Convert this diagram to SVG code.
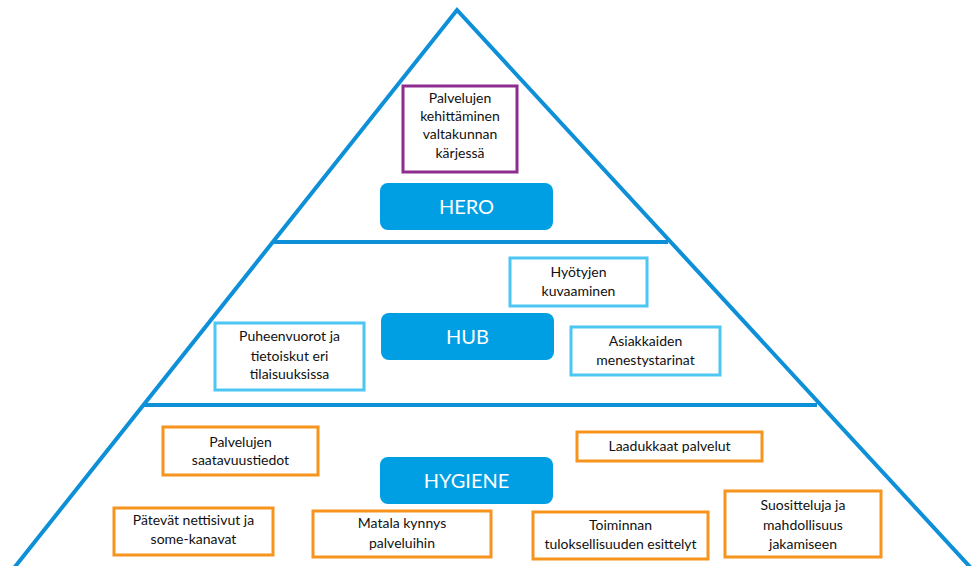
<svg xmlns="http://www.w3.org/2000/svg" width="977" height="566" viewBox="0 0 977 566">
<style>
.ln{stroke:#0E90D8;stroke-width:4;fill:none}
.lvl{fill:#009FE3}
.lvt{font-family:Lato,"Liberation Sans",sans-serif;font-size:20px;fill:#fff;text-anchor:middle}
.t{font-family:Lato,"Liberation Sans",sans-serif;font-size:14px;fill:#111;text-anchor:middle}
.pu{fill:#fff;stroke:#8E2D8F;stroke-width:3}
.lb{fill:#fff;stroke:#4CC6F2;stroke-width:3}
.or{fill:#fff;stroke:#F7941D;stroke-width:3}
</style>
<rect width="977" height="566" fill="#fff"/>
<g id="connectors">
<polyline class="ln" points="14,568 457,10 971,568"/>
<line class="ln" x1="272" y1="242" x2="668" y2="242"/>
<line class="ln" x1="144" y1="405" x2="817" y2="405"/>
</g>
<g id="hero">
<rect class="lvl" x="380" y="183" width="173" height="47" rx="8"/>
<text class="lvt" x="466.5" y="214">HERO</text>
</g>
<g id="hero-item">
<rect class="pu" x="403" y="86" width="114" height="86"/>
<text class="t" x="460" y="103">Palvelujen</text>
<text class="t" x="460" y="121">kehittäminen</text>
<text class="t" x="460" y="139">valtakunnan</text>
<text class="t" x="460" y="158">kärjessä</text>
</g>
<g id="hub">
<rect class="lvl" x="381" y="313" width="173" height="47" rx="8"/>
<text class="lvt" x="467.5" y="344">HUB</text>
</g>
<g id="hub-hyotyjen">
<rect class="lb" x="510" y="258" width="137" height="48"/>
<text class="t" x="578.5" y="277">Hyötyjen</text>
<text class="t" x="578.5" y="296">kuvaaminen</text>
</g>
<g id="hub-puheenvuorot">
<rect class="lb" x="215" y="323" width="149" height="67"/>
<text class="t" x="289.5" y="341">Puheenvuorot ja</text>
<text class="t" x="289.5" y="361">tietoiskut eri</text>
<text class="t" x="289.5" y="379">tilaisuuksissa</text>
</g>
<g id="hub-asiakkaiden">
<rect class="lb" x="571" y="327" width="149" height="48"/>
<text class="t" x="645.5" y="346">Asiakkaiden</text>
<text class="t" x="645.5" y="365">menestystarinat</text>
</g>
<g id="hygiene">
<rect class="lvl" x="380" y="457" width="173" height="47" rx="8"/>
<text class="lvt" x="466.5" y="488">HYGIENE</text>
</g>
<g id="hyg-saatavuus">
<rect class="or" x="163" y="427" width="155" height="48"/>
<text class="t" x="240.5" y="447">Palvelujen</text>
<text class="t" x="240.5" y="465">saatavuustiedot</text>
</g>
<g id="hyg-laadukkaat">
<rect class="or" x="577" y="432" width="185" height="29"/>
<text class="t" x="669.5" y="451">Laadukkaat palvelut</text>
</g>
<g id="hyg-patevat">
<rect class="or" x="114" y="508" width="159" height="47"/>
<text class="t" x="193.5" y="525">Pätevät nettisivut ja</text>
<text class="t" x="193.5" y="544">some-kanavat</text>
</g>
<g id="hyg-matala">
<rect class="or" x="313" y="511" width="178" height="46"/>
<text class="t" x="402" y="528">Matala kynnys</text>
<text class="t" x="402" y="548">palveluihin</text>
</g>
<g id="hyg-toiminnan">
<rect class="or" x="533" y="512" width="175" height="47"/>
<text class="t" x="620.5" y="530">Toiminnan</text>
<text class="t" x="620.5" y="549">tuloksellisuuden esittelyt</text>
</g>
<g id="hyg-suositteluja">
<rect class="or" x="725" y="491" width="156" height="66"/>
<text class="t" x="803" y="510">Suositteluja ja</text>
<text class="t" x="803" y="530">mahdollisuus</text>
<text class="t" x="803" y="549">jakamiseen</text>
</g>
</svg>
